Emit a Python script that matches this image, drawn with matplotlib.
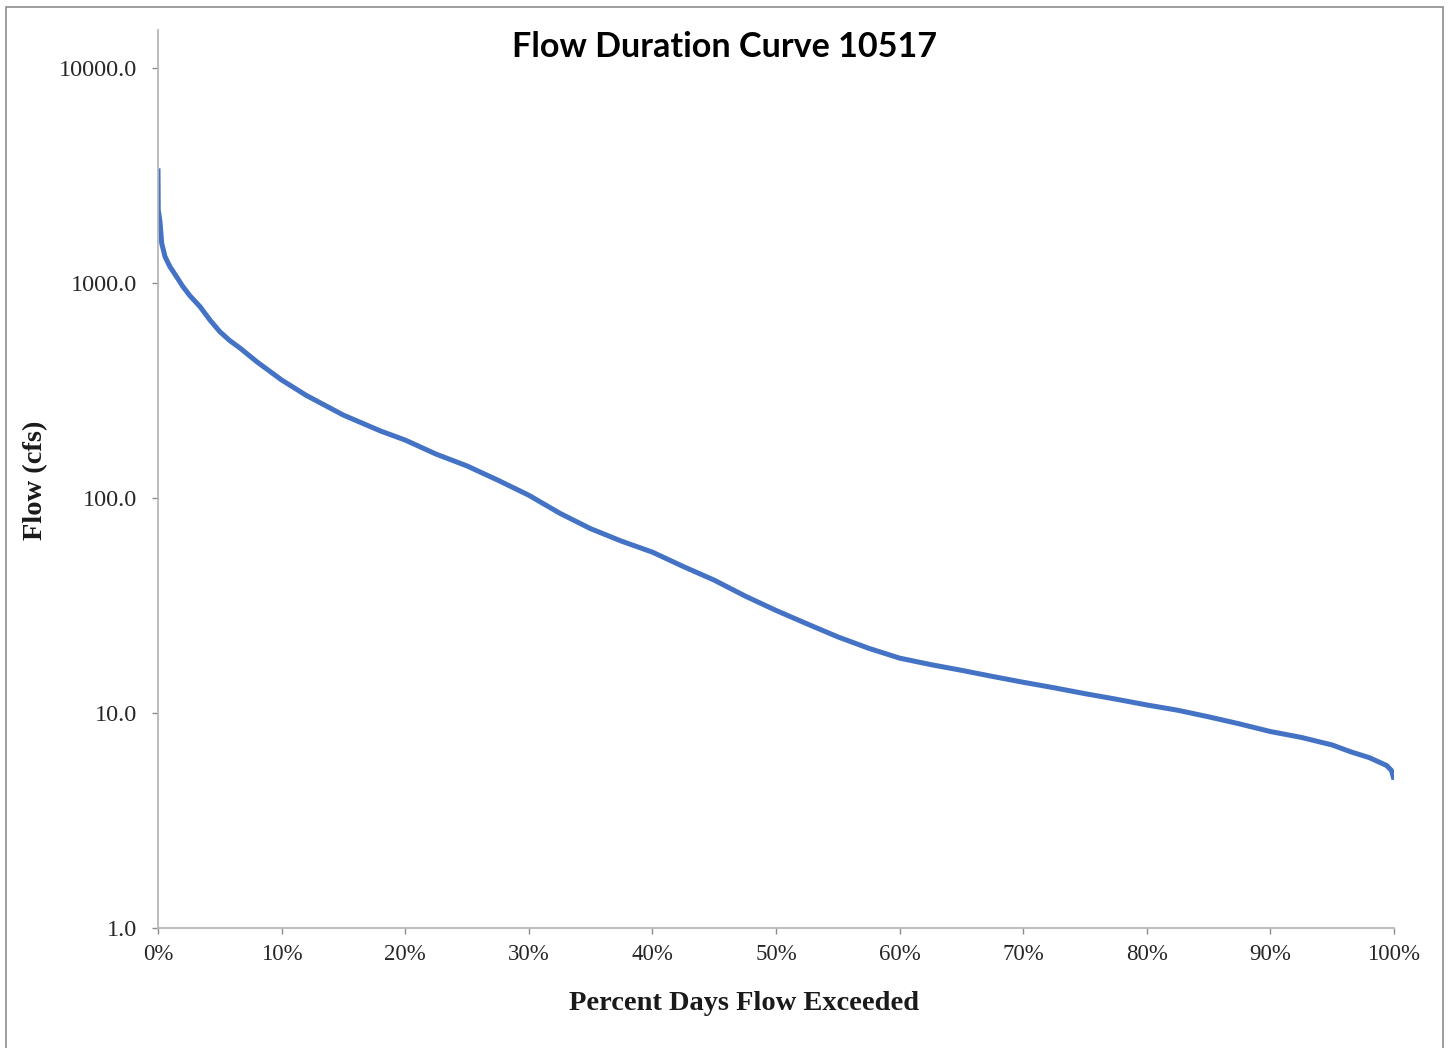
import numpy as np
import matplotlib
matplotlib.use("Agg")
import matplotlib.pyplot as plt
from matplotlib.patches import Rectangle
from matplotlib.ticker import FixedLocator, FuncFormatter, NullLocator

# Flow duration data: percent of days a flow is equalled or exceeded
pct_exceeded = [0, 0.02, 0.16, 0.3, 0.57, 0.97, 1.5, 2.0, 2.6, 3.4, 4.2, 5.0,
                5.8, 6.6, 8, 10, 12, 15, 18, 20, 22.5, 25, 27.5, 30, 32.5, 35,
                37.5, 40, 42.5, 45, 47.5, 50, 52.5, 55, 57.5, 60, 62.5, 65,
                67.5, 70, 72.5, 75, 77.5, 80, 82.5, 85, 87.5, 90, 92.5, 95,
                96.5, 98, 99.4, 99.8, 100]
flow_cfs = [3415, 2190, 1930, 1530, 1325, 1190, 1070, 965, 870, 776, 673, 594,
            540, 500, 430, 354, 300, 243, 205, 186, 160, 141, 121, 103, 85, 72,
            63, 56, 48, 41.5, 35, 30, 26, 22.6, 20, 18, 16.8, 15.8,
            14.8, 13.9, 13.1, 12.3, 11.6, 10.9, 10.3, 9.6, 8.9, 8.2, 7.7, 7.1,
            6.6, 6.2, 5.7, 5.4, 4.9]

y_ticks = [1, 10, 100, 1000, 10000]
x_ticks = list(range(0, 101, 10))

W, H = 1452, 1048
fig = plt.figure(figsize=(W / 100, H / 100), dpi=100)
fig.patch.set_facecolor("white")

# chart-area frame
fig.add_artist(Rectangle((6 / W, -0.05), (1443 - 6) / W, 1 - 7 / H + 0.05,
                         transform=fig.transFigure, fill=False,
                         edgecolor="#8c8c8c", linewidth=1.2))

left, right = 158 / W, 1394 / W
bottom, top = 1 - 928 / H, 1 - 30 / H
ax = fig.add_axes([left, bottom, right - left, top - bottom])

ax.plot(pct_exceeded, flow_cfs, color="#4472C4", linewidth=3.6,
        solid_capstyle="butt", solid_joinstyle="round")

ax.set_yscale("log")
ax.set_xlim(0, 100)
ax.set_ylim(1, 10 ** ((928 - 30) / 215))

ax.yaxis.set_major_locator(FixedLocator(y_ticks))
ax.yaxis.set_minor_locator(NullLocator())
ax.yaxis.set_major_formatter(FuncFormatter(lambda v, p: f"{v:.1f}"))
ax.xaxis.set_major_locator(FixedLocator(x_ticks))
ax.xaxis.set_major_formatter(FuncFormatter(lambda v, p: f"{int(v)}%"))

for s in ["top", "right"]:
    ax.spines[s].set_visible(False)
for s in ["left", "bottom"]:
    ax.spines[s].set_color("#b8b8b8")
    ax.spines[s].set_linewidth(1.3)

serif = ["Liberation Serif", "DejaVu Serif"]
ax.tick_params(axis="both", which="major", direction="out", length=4.3,
               width=1.0, color="#8c8c8c", labelcolor="#262626")
ax.tick_params(axis="y", labelsize=17.5, pad=11)
ax.tick_params(axis="x", labelsize=16.5, pad=7)
for lab in ax.get_xticklabels() + ax.get_yticklabels():
    lab.set_family(serif)

ax.set_xlabel("Percent Days Flow Exceeded", family=serif, fontweight="bold",
              fontsize=20.5, color="#1a1a1a", va="center", ha="center")
ax.xaxis.set_label_coords((744 - 158) / 1236, (928 - 1003) / 898)
ax.set_ylabel("Flow (cfs)", family=serif, fontweight="bold",
              fontsize=20.5, color="#1a1a1a", va="center", ha="center")
ax.yaxis.set_label_coords((36 - 158) / 1236, (928 - 480) / 898)

fig.text(724 / W, 1 - 47 / H, "Flow Duration Curve 10517",
         family=["Lato", "DejaVu Sans"], fontweight="bold", fontsize=24.6,
         ha="center", va="center", color="black")

fig.savefig("out.png", dpi=100, facecolor="white")
